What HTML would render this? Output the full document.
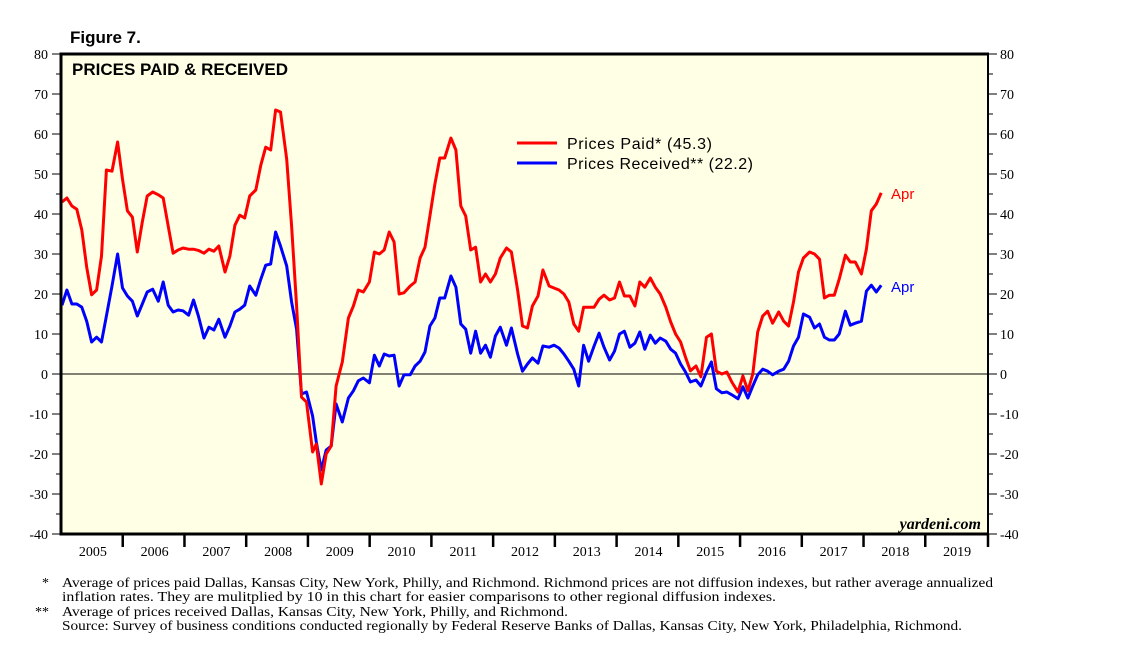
<!DOCTYPE html>
<html><head><meta charset="utf-8"><style>
body{margin:0;background:#fff;}
svg text{font-family:"Liberation Serif",serif;}
.sans{font-family:"Liberation Sans",sans-serif !important;}
</style></head><body>
<svg id="chart" width="1138" height="650" viewBox="0 0 1138 650" xmlns="http://www.w3.org/2000/svg">
<text class="sans" x="70" y="43" font-size="17" font-weight="bold">Figure 7.</text>
<rect x="61" y="54" width="927" height="480" fill="#FFFFE6"/>
<g id="grid"></g>
<g id="series"></g>
<line x1="61" y1="52.5" x2="61" y2="535.5" stroke="#000" stroke-width="3"/>
<line x1="60" y1="54" x2="989" y2="54" stroke="#000" stroke-width="3"/>
<line x1="60" y1="534" x2="989" y2="534" stroke="#000" stroke-width="3"/>
<line x1="988" y1="53" x2="988" y2="535" stroke="#000" stroke-width="2"/>
<g id="axes"></g>
<text class="sans" x="72" y="75" font-size="17" font-weight="bold">PRICES PAID &amp; RECEIVED</text>
<line x1="517" y1="143" x2="557" y2="143" stroke="#ff0000" stroke-width="3"/>
<text class="sans" x="567" y="149" font-size="16" textLength="145">Prices Paid* (45.3)</text>
<line x1="517" y1="163" x2="557" y2="163" stroke="#0000ff" stroke-width="3"/>
<text class="sans" x="567" y="169" font-size="16" textLength="186">Prices Received** (22.2)</text>
<text class="sans" x="891" y="199" font-size="15" fill="#ff0000">Apr</text>
<text class="sans" x="891" y="292" font-size="15" fill="#0000ff">Apr</text>
<text x="981" y="529" font-size="16" font-style="italic" font-weight="bold" text-anchor="end">yardeni.com</text>
<g font-size="14">
<text x="42" y="587">*</text>
<text x="62" y="587" textLength="931" lengthAdjust="spacingAndGlyphs">Average of prices paid Dallas, Kansas City, New York, Philly, and Richmond. Richmond prices are not diffusion indexes, but rather average annualized</text>
<text x="62" y="601" textLength="714" lengthAdjust="spacingAndGlyphs">inflation rates. They are mulitplied by 10 in this chart for easier comparisons to other regional diffusion indexes.</text>
<text x="35" y="616">**</text>
<text x="62" y="616" textLength="506" lengthAdjust="spacingAndGlyphs">Average of prices received Dallas, Kansas City, New York, Philly, and Richmond.</text>
<text x="62" y="630" textLength="900" lengthAdjust="spacingAndGlyphs">Source: Survey of business conditions conducted regionally by Federal Reserve Banks of Dallas, Kansas City, New York, Philadelphia, Richmond.</text>
</g>
</svg>
<script>
const dates=[2005.00,2005.08,2005.16,2005.24,2005.32,2005.40,2005.48,2005.56,2005.64,2005.72,2005.81,2005.90,2005.98,
2006.06,2006.14,2006.22,2006.30,2006.38,2006.47,2006.56,2006.64,2006.72,2006.80,2006.88,2006.96,
2007.05,2007.13,2007.21,2007.30,2007.38,2007.46,2007.54,2007.64,2007.72,2007.80,2007.88,2007.96,
2008.04,2008.14,2008.22,2008.30,2008.38,2008.46,2008.54,2008.64,2008.72,2008.80,2008.88,2008.96,
2009.06,2009.12,2009.20,2009.28,2009.36,2009.44,2009.54,2009.64,2009.72,2009.80,2009.88,2009.98,
2010.06,2010.14,2010.22,2010.30,2010.38,2010.46,2010.54,2010.64,2010.72,2010.80,2010.88,2010.96,
2011.04,2011.12,2011.20,2011.30,2011.38,2011.46,2011.54,2011.62,2011.70,2011.78,2011.86,2011.94,
2012.02,2012.10,2012.20,2012.28,2012.38,2012.46,2012.54,2012.62,2012.71,2012.79,2012.89,2012.97,
2013.05,2013.13,2013.21,2013.29,2013.37,2013.45,2013.53,2013.62,2013.70,2013.78,2013.87,2013.95,
2014.03,2014.11,2014.20,2014.28,2014.36,2014.44,2014.53,2014.61,2014.69,2014.78,2014.86,2014.94,
2015.02,2015.10,2015.18,2015.27,2015.35,2015.44,2015.52,2015.60,2015.69,2015.77,2015.85,2015.95,
2016.03,2016.11,2016.19,2016.27,2016.35,2016.43,2016.51,2016.61,2016.69,2016.77,2016.85,2016.93,
2017.01,2017.11,2017.19,2017.27,2017.35,2017.43,2017.51,2017.59,2017.69,2017.77,2017.85,2017.95,
2018.03,2018.11,2018.19,2018.27];
const pricesPaid=[43,44,42,41.2,36,26.7,19.8,21,29.5,51,50.7,58,48.7,
40.8,39.2,30.5,38,44.5,45.5,44.8,44,37,30.2,31,31.5,
31.2,31.2,30.9,30.2,31.2,30.7,32,25.5,29.5,37.2,39.7,39,
44.5,46,52.2,56.7,56,66,65.5,53.7,37,17,-5.8,-7,
-19.5,-17.5,-27.5,-20,-18,-3,3,14,17,21,20.5,23,
30.5,30,31,35.5,33,20,20.3,22,23,29,31.7,39.5,
47.5,54,54,59,56,42,39.5,31,31.7,23,25,23,
25,29,31.5,30.5,21,12,11.5,17,19.5,26,22,21.5,
21,20,18,12.5,10.7,16.7,16.7,16.7,18.7,19.7,18.5,19,
23,19.5,19.5,17,23,21.7,24,21.7,20,16.7,13,10,
8,4.2,0.8,2,-0.7,9.2,10,0.7,0,0.5,-2,-4.5,
-0.5,-4.2,0,10.5,14.5,15.7,12.7,15.5,13.2,12,18,25.5,
29,30.5,30,28.7,19,19.7,19.7,23.7,29.7,28,28,25,
31.2,40.8,42.5,45.3];
const pricesReceived=[17.2,21,17.5,17.5,16.7,13.2,8,9.2,8,14.5,22,30,21.5,
19.5,18.2,14.5,17.5,20.5,21.2,18.2,23,17.2,15.5,16,15.8,
14.7,18.5,14.5,9,11.7,11,13.7,9.2,12,15.5,16.2,17.2,
22,19.7,23.7,27.2,27.5,35.5,32,27,18,11.2,-5,-4.5,
-10.5,-17,-24,-19,-18,-7.5,-12,-6,-4.2,-1.7,-1,-2.2,
4.7,2,5,4.5,4.7,-3,-0.2,-0.2,2,3.2,5.5,12,
14,19,19,24.5,21.7,12.5,11.2,5.2,10.7,5.2,7.2,4.2,
9.5,11.7,7.2,11.5,5,0.7,2.5,4,2.7,7,6.7,7.2,
6.5,5,3.2,1.2,-3,7.2,3.2,7,10.2,6.7,3.5,5.7,
10,10.7,6.7,7.7,10.5,6.2,9.7,7.7,9,8.2,6.2,5.2,
2.5,0.5,-2,-1.5,-3,0.5,3,-3.7,-4.7,-4.5,-5.2,-6.2,
-3.2,-6,-3,-0.2,1.2,0.7,-0.2,0.7,1.2,3.2,7,9.2,
15,14.2,11.5,12.5,9.2,8.5,8.5,10,15.7,12.2,12.7,13.2,
20.7,22.2,20.5,22.2];
const yTicks=[-40,-30,-20,-10,0,10,20,30,40,50,60,70,80];
const yearLabels=["2005","2006","2007","2008","2009","2010","2011","2012","2013","2014","2015","2016","2017","2018","2019"];

const NS="http://www.w3.org/2000/svg";
const X0=62,X1=988,T0=2005,T1=2020;
function xS(t){return X0+(t-T0)*(X1-X0)/(T1-T0);}
function yS(v){return 374-(v)*4;}
function mk(tag,attrs,parent){const e=document.createElementNS(NS,tag);for(const k in attrs)e.setAttribute(k,attrs[k]);parent.appendChild(e);return e;}
const axes=document.getElementById('axes'),grid=document.getElementById('grid'),series=document.getElementById('series');

const zero=mk('line',{x1:61,x2:988,y1:yS(0),y2:yS(0),stroke:'#000','stroke-width':1},grid);



yTicks.forEach((v,i)=>{
  const y=yS(v);
  const tl=mk('line',{x1:52,x2:61,y1:y,y2:y,stroke:'#000','stroke-width':1},axes);
  
  
  const tr=mk('line',{x1:988,x2:997,y1:y,y2:y,stroke:'#000','stroke-width':1},axes);
  
  
  const a=mk('text',{x:48,y:y+5,'font-size':14,'text-anchor':'end'},axes);a.textContent=v;
  
  
  const b=mk('text',{x:1000,y:y+5,'font-size':14},axes);b.textContent=v;
  
  
  if(i<yTicks.length-1){
    const ym=yS(v+5);
    const m1=mk('line',{x1:56,x2:61,y1:ym,y2:ym,stroke:'#000','stroke-width':1},axes);
    
    
    const m2=mk('line',{x1:988,x2:993,y1:ym,y2:ym,stroke:'#000','stroke-width':1},axes);
    
    
  }
});
yearLabels.forEach((lab,i)=>{
  const yr=+lab;
  if(i>0){const t=mk('line',{x1:xS(yr)-1,x2:xS(yr)-1,y1:534,y2:547,stroke:'#000','stroke-width':2.5},axes);
  
  }
  const tx=mk('text',{x:xS(yr+0.5),y:556,'font-size':14,'text-anchor':'middle'},axes);tx.textContent=lab;
  
  
});
const endT=mk('line',{x1:988,x2:988,y1:534,y2:547,stroke:'#000','stroke-width':2.5},axes);



function line(vals,color,name){
  const d=vals.map((v,i)=>(i?'L':'M')+xS(dates[i]).toFixed(1)+','+yS(v).toFixed(1)).join('');
  const p=mk('path',{d:d,fill:'none',stroke:color,'stroke-width':3,'stroke-linejoin':'round'},series);
  
  
}
line(pricesReceived,'#0000ff','prices-received-line');
line(pricesPaid,'#ff0000','prices-paid-line');
</script>
</body></html>
